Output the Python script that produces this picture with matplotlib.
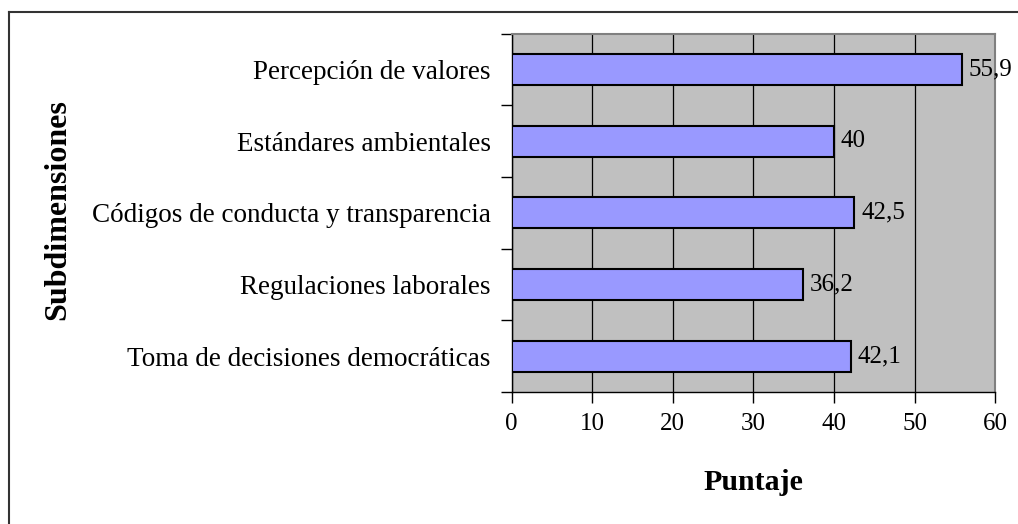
import numpy as np
import matplotlib.pyplot as plt
from matplotlib.lines import Line2D

# data (bottom to top as drawn)
categorias = ["Toma de decisiones democráticas", "Regulaciones laborales",
              "Códigos de conducta y transparencia", "Estándares ambientales",
              "Percepción de valores"]
puntaje = [42.1, 36.2, 42.5, 40, 55.9]
etiquetas = ["42,1", "36,2", "42,5", "40", "55,9"]
xticks = [0, 10, 20, 30, 40, 50, 60]

plt.rcParams['font.family'] = ['Liberation Serif', 'DejaVu Serif']

fig = plt.figure(figsize=(10.18, 5.24), dpi=100)
ax = fig.add_axes([0.5025, 0.2519, 0.475, 0.684])
ax.set_facecolor("#c0c0c0")

y = np.arange(len(categorias))
ax.barh(y, puntaje, height=0.43, color="#9999ff", edgecolor="black", linewidth=1.5, zorder=3)
for yi, v, t in zip(y, puntaje, etiquetas):
    ax.annotate(t, (v, yi), xytext=(5, 0), textcoords="offset points",
                va="center", ha="left", fontsize=18, zorder=4)

ax.set_xlim(0, 60)
ax.set_ylim(-0.5, len(categorias) - 0.5)
ax.set_xticks(xticks)
ax.set_xticklabels([str(v) for v in xticks], fontsize=18)
ax.xaxis.grid(True, color="black", linewidth=0.9, zorder=1)
ax.set_axisbelow(True)

ax.set_yticks(np.arange(-0.5, len(categorias), 1.0))
ax.set_yticklabels([])
ax.set_yticks(y, minor=True)
ax.set_yticklabels(categorias, minor=True, fontsize=19.5)
ax.tick_params(axis="y", which="minor", length=0, pad=15)
ax.tick_params(axis="both", which="major", direction="out", length=8, width=1, pad=7)

for s in ["left", "bottom"]:
    ax.spines[s].set_color("black")
    ax.spines[s].set_linewidth(1)
for s in ["top", "right"]:
    ax.spines[s].set_color("#808080")
    ax.spines[s].set_linewidth(1.5)

fig.text(753 / 1018, 1 - 482 / 524, "Puntaje", ha="center", va="center",
         fontsize=21.5, fontweight="bold")
fig.text(58 / 1018, 1 - 210 / 524, "Subdimensiones", ha="center", va="center",
         rotation=90, fontsize=23, fontweight="bold")

# outer chart border (top and left visible)
fig.add_artist(Line2D([9 / 1018, 9 / 1018], [0, 1 - 12 / 524], color="#333333", linewidth=1.5))
fig.add_artist(Line2D([9 / 1018, 1], [1 - 12 / 524, 1 - 12 / 524], color="#333333", linewidth=1.5))

fig.savefig("out.png", dpi=100, facecolor="white")
